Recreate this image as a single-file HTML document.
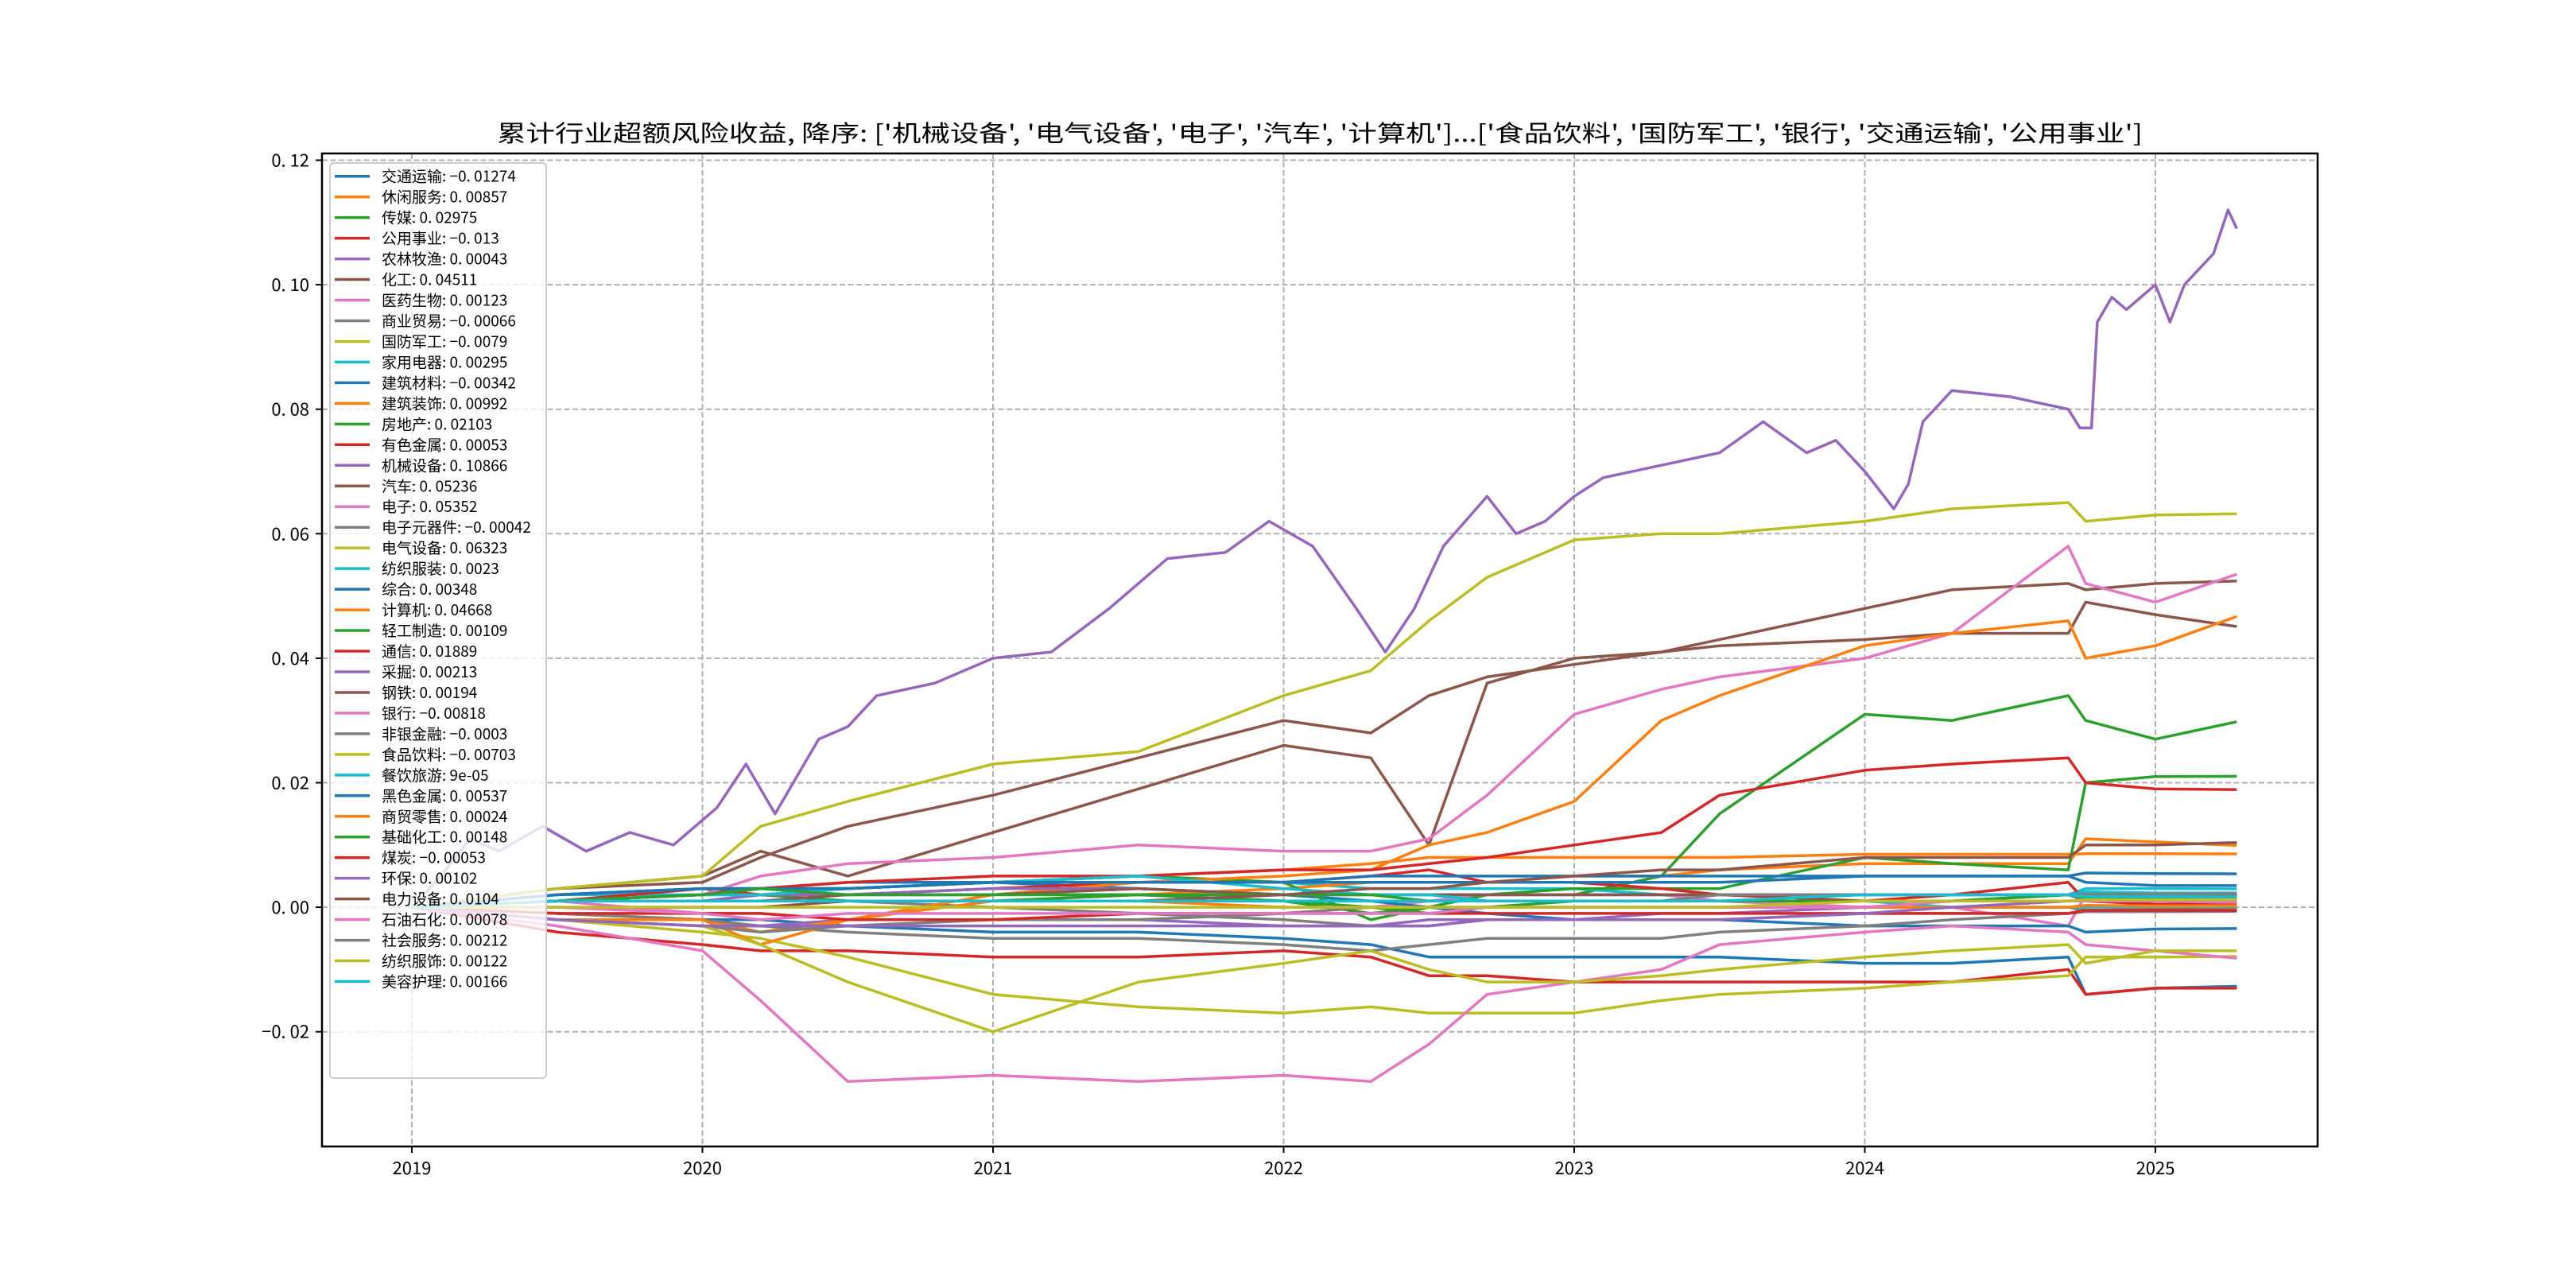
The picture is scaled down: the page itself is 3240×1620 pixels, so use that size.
<!DOCTYPE html>
<html><head><meta charset="utf-8"><style>
html,body{margin:0;padding:0;background:#fff}
svg{display:block}
text{font-family:"Noto Sans CJK SC","WenQuanYi Zen Hei",sans-serif}
</style></head><body>
<svg id="chart" width="3240" height="1620" viewBox="0 0 3240 1620" xmlns="http://www.w3.org/2000/svg">
<rect x="0" y="0" width="3240" height="1620" fill="#fff"/>
<text x="1660" y="178" text-anchor="middle" font-size="29" textLength="2070" lengthAdjust="spacingAndGlyphs">累计行业超额风险收益,  降序: ['机械设备', '电气设备', '电子', '汽车', '计算机']...['食品饮料', '国防军工', '银行', '交通运输', '公用事业']</text>
<g id="grid"></g>
<g id="axes"></g>
<g id="lines"></g>
<rect x="405" y="193" width="2510" height="1249" fill="none" stroke="#000" stroke-width="2.5"/>
<g id="legend"></g>
</svg>
<script>
const names = ["交通运输","休闲服务","传媒","公用事业","农林牧渔","化工","医药生物","商业贸易","国防军工","家用电器","建筑材料","建筑装饰","房地产","有色金属","机械设备","汽车","电子","电子元器件","电气设备","纺织服装","综合","计算机","轻工制造","通信","采掘","钢铁","银行","非银金融","食品饮料","餐饮旅游","黑色金属","商贸零售","基础化工","煤炭","环保","电力设备","石油石化","社会服务","纺织服饰","美容护理"];
const finals = ["-0.01274","0.00857","0.02975","-0.013","0.00043","0.04511","0.00123","-0.00066","-0.0079","0.00295","-0.00342","0.00992","0.02103","0.00053","0.10866","0.05236","0.05352","-0.00042","0.06323","0.0023","0.00348","0.04668","0.00109","0.01889","0.00213","0.00194","-0.00818","-0.0003","-0.00703","9e-05","0.00537","0.00024","0.00148","-0.00053","0.00102","0.0104","0.00078","0.00212","0.00122","0.00166"];
const gridT = [2019.0,2019.5,2020.0,2020.2,2020.5,2021.0,2021.5,2022.0,2022.3,2022.5,2022.7,2023.0,2023.3,2023.5,2024.0,2024.3,2024.7,2024.76,2025.0,2025.28];
const values = [
[0,-0.001,-0.002,-0.002,-0.003,-0.004,-0.004,-0.005,-0.006,-0.008,-0.008,-0.008,-0.008,-0.008,-0.009,-0.009,-0.008,-0.014,-0.013,-0.0127],
[0,0.001,0.002,0.002,0.003,0.004,0.005,0.006,0.007,0.008,0.008,0.008,0.008,0.008,0.0085,0.0085,0.0085,0.0086,0.0086,0.00857],
[0,0.001,0.001,0.002,0.002,0.002,0.002,0.001,-0.001,0,0.002,0.002,0.005,0.015,0.031,0.030,0.034,0.030,0.027,0.0298],
[0,-0.004,-0.006,-0.007,-0.007,-0.008,-0.008,-0.007,-0.008,-0.011,-0.011,-0.012,-0.012,-0.012,-0.012,-0.012,-0.010,-0.014,-0.013,-0.013],
[0,-0.002,-0.003,-0.003,-0.002,-0.002,-0.002,-0.003,-0.003,-0.002,-0.002,-0.002,-0.001,-0.001,0,0.001,0.002,0.001,0.0005,0.00043],
[0,0.003,0.005,0.009,0.005,0.012,0.019,0.026,0.024,0.010,0.036,0.040,0.041,0.042,0.043,0.044,0.044,0.049,0.047,0.0451],
[0,0.001,-0.001,-0.001,-0.002,-0.002,-0.002,-0.001,0,0.001,0.002,0.002,0.002,0.001,0,0,-0.003,0.002,0.001,0.00123],
[0,0.002,0.003,0.002,0.001,0.000,-0.001,-0.002,-0.003,-0.003,-0.002,-0.002,-0.002,-0.002,-0.001,-0.001,-0.001,-0.0007,-0.0007,-0.00066],
[0,-0.002,-0.004,-0.005,-0.008,-0.014,-0.016,-0.017,-0.016,-0.017,-0.017,-0.017,-0.015,-0.014,-0.013,-0.012,-0.011,-0.008,-0.008,-0.0079],
[0,0.002,0.002,0.003,0.003,0.004,0.005,0.004,0.003,0.003,0.003,0.003,0.002,0.002,0.002,0.002,0.002,0.003,0.003,0.00295],
[0,0.001,0.002,0.003,0.003,0.004,0.003,0.002,0.001,0,-0.001,-0.002,-0.002,-0.002,-0.003,-0.003,-0.003,-0.004,-0.0035,-0.00342],
[0,-0.001,-0.002,-0.004,-0.002,0.001,0.002,0.003,0.004,0.004,0.004,0.005,0.005,0.006,0.007,0.007,0.007,0.011,0.0105,0.00992],
[0,0.001,0.002,0.003,0.003,0.004,0.005,0.004,-0.002,0,0.002,0.003,0.003,0.003,0.008,0.007,0.006,0.020,0.021,0.02103],
[0,0.001,0.003,0.002,0.002,0.003,0.004,0.004,0.005,0.006,0.004,0.004,0.003,0.002,0.001,0.002,0.004,0.001,0.0005,0.00053],
null,
[0,0.003,0.004,0.008,0.013,0.018,0.024,0.030,0.028,0.034,0.037,0.039,0.041,0.043,0.048,0.051,0.052,0.051,0.052,0.0524],
[0,0.001,0.002,0.005,0.007,0.008,0.010,0.009,0.009,0.011,0.018,0.031,0.035,0.037,0.040,0.044,0.058,0.052,0.049,0.0535],
[0,-0.001,-0.002,-0.003,-0.004,-0.005,-0.005,-0.006,-0.007,-0.006,-0.005,-0.005,-0.005,-0.004,-0.003,-0.002,-0.001,-0.0005,-0.0004,-0.00042],
[0,0.003,0.005,0.013,0.017,0.023,0.025,0.034,0.038,0.046,0.053,0.059,0.060,0.060,0.062,0.064,0.065,0.062,0.063,0.0632],
[0,0.002,0.003,0.003,0.002,0.002,0.003,0.002,0.002,0.002,0.002,0.002,0.002,0.002,0.002,0.002,0.002,0.0025,0.0023,0.0023],
[0,0.002,0.003,0.003,0.004,0.004,0.004,0.004,0.005,0.005,0.005,0.005,0.005,0.005,0.005,0.005,0.005,0.004,0.0035,0.00348],
[0,-0.002,-0.002,-0.006,-0.002,0.002,0.004,0.005,0.006,0.010,0.012,0.017,0.030,0.034,0.042,0.044,0.046,0.040,0.042,0.0467],
[0,0.001,0.002,0.002,0.001,0.001,0.002,0.001,0,-0.001,0,0.001,0.001,0.001,0.001,0.001,0.001,0.001,0.0011,0.00109],
[0,0.001,0.002,0.003,0.004,0.005,0.005,0.006,0.006,0.007,0.008,0.010,0.012,0.018,0.022,0.023,0.024,0.020,0.019,0.0189],
[0,0.001,0.001,0.002,0.002,0.003,0.003,0.002,0.002,0.002,0.002,0.002,0.002,0.002,0.002,0.002,0.002,0.002,0.0021,0.00213],
[0,0.001,0.001,0.001,0.002,0.002,0.003,0.002,0.002,0.002,0.002,0.002,0.002,0.002,0.002,0.002,0.002,0.002,0.0019,0.00194],
[0,-0.003,-0.007,-0.015,-0.028,-0.027,-0.028,-0.027,-0.028,-0.022,-0.014,-0.012,-0.010,-0.006,-0.004,-0.003,-0.004,-0.006,-0.007,-0.0082],
[0,-0.002,-0.003,-0.004,-0.003,-0.002,-0.002,-0.001,0,0,0,0,0,0,0,0,0,-0.0005,-0.0003,-0.0003],
[0,-0.002,-0.003,-0.006,-0.012,-0.020,-0.012,-0.009,-0.007,-0.010,-0.012,-0.012,-0.011,-0.010,-0.008,-0.007,-0.006,-0.009,-0.007,-0.007],
[0,0.001,0.002,0.002,0.003,0.004,0.005,0.003,0.002,0.002,0.001,0.001,0.001,0.001,0.001,0,0,0,0.0001,0.00009],
[0,0.002,0.003,0.003,0.003,0.004,0.004,0.004,0.004,0.004,0.004,0.004,0.004,0.004,0.005,0.005,0.005,0.0055,0.0054,0.00537],
[0,0.001,0.001,0.001,0.001,0.001,0.001,0,0,0,0,0,0,0,0,0,0,0.0003,0.0002,0.00024],
[0,0.001,0.002,0.003,0.002,0.002,0.002,0.002,0.002,0.001,0.001,0.001,0.001,0.001,0.001,0.001,0.002,0.0015,0.0015,0.00148],
[0,-0.001,-0.001,-0.001,-0.002,-0.002,-0.001,-0.001,-0.001,-0.001,-0.001,-0.001,-0.001,-0.001,-0.001,-0.001,-0.001,-0.0005,-0.0005,-0.00053],
[0,-0.002,-0.003,-0.003,-0.003,-0.003,-0.003,-0.003,-0.003,-0.003,-0.002,-0.002,-0.002,-0.002,-0.001,0,0.001,0.001,0.001,0.00102],
[0,0,0,0,0.001,0.001,0.001,0.002,0.003,0.003,0.004,0.005,0.006,0.006,0.008,0.008,0.008,0.010,0.010,0.0104],
[0,0,-0.001,-0.002,-0.001,-0.001,-0.001,-0.001,-0.001,-0.001,0,0,0,0,0,0.001,0.001,0.001,0.001,0.00078],
[0,0.001,0.001,0.001,0.001,0.001,0.001,0.001,0.001,0.001,0.001,0.001,0.001,0.002,0.002,0.002,0.002,0.0021,0.0021,0.00212],
[0,0,0,0,0,0,0,0,0,0,0,0,0,0,0.001,0.001,0.001,0.0012,0.0012,0.00122],
[0,0.001,0.001,0.001,0.001,0.001,0.001,0.001,0.001,0.001,0.001,0.001,0.001,0.001,0.002,0.002,0.002,0.0017,0.0017,0.00166]
];
const jxT = [2019.0,2019.1,2019.2,2019.3,2019.45,2019.6,2019.75,2019.9,2020.05,2020.15,2020.25,2020.4,2020.5,2020.6,2020.8,2021.0,2021.2,2021.4,2021.6,2021.8,2021.95,2022.1,2022.25,2022.35,2022.45,2022.55,2022.7,2022.8,2022.9,2023.0,2023.1,2023.3,2023.5,2023.65,2023.8,2023.9,2024.0,2024.1,2024.15,2024.2,2024.3,2024.5,2024.7,2024.74,2024.78,2024.8,2024.85,2024.9,2025.0,2025.05,2025.1,2025.2,2025.25,2025.28];
const jxV = [0,0.005,0.011,0.009,0.013,0.009,0.012,0.010,0.016,0.023,0.015,0.027,0.029,0.034,0.036,0.040,0.041,0.048,0.056,0.057,0.062,0.058,0.048,0.041,0.048,0.058,0.066,0.060,0.062,0.066,0.069,0.071,0.073,0.078,0.073,0.075,0.070,0.064,0.068,0.078,0.083,0.082,0.080,0.077,0.077,0.094,0.098,0.096,0.100,0.094,0.100,0.105,0.112,0.109];
const yTicks = [-0.02,0,0.02,0.04,0.06,0.08,0.10,0.12];
const yTickLabels = ["\u22120. 02","0. 00","0. 02","0. 04","0. 06","0. 08","0. 10","0. 12"];
const xTicks = [2019,2020,2021,2022,2023,2024,2025];
const xTickLabels = ["2019","2020","2021","2022","2023","2024","2025"];
const colors = ["#1f77b4","#ff7f0e","#2ca02c","#d62728","#9467bd","#8c564b","#e377c2","#7f7f7f","#bcbd22","#17becf"];

const NS = "http://www.w3.org/2000/svg";
function xOf(t){ return 518 + (t - 2019) * 365.5; }
function yOf(v){ return 1141.1 - v * 7830; }
function mk(tag, attrs, parent){ const e = document.createElementNS(NS, tag); for (const k in attrs) e.setAttribute(k, attrs[k]); parent.appendChild(e); return e; }

const grid = document.getElementById('grid'), axes = document.getElementById('axes');
yTicks.forEach((v,i)=>{
  const y = yOf(v);
  const g = mk('line',{x1:405,x2:2915,y1:y,y2:y,stroke:'#b0b0b0','stroke-width':2,'stroke-dasharray':'7,3.5'},grid);
  
  
  const tk = mk('line',{x1:397,x2:405,y1:y,y2:y,stroke:'#000','stroke-width':2},axes);
  
  
  const tx = mk('text',{x:389,y:y+8,'text-anchor':'end','font-size':22},axes);
  tx.textContent = yTickLabels[i];
  
  
});
xTicks.forEach((t,i)=>{
  const x = xOf(t);
  const g = mk('line',{x1:x,x2:x,y1:193,y2:1442,stroke:'#b0b0b0','stroke-width':2,'stroke-dasharray':'7,3.5'},grid);
  
  
  const tk = mk('line',{x1:x,x2:x,y1:1442,y2:1450,stroke:'#000','stroke-width':2},axes);
  
  
  const tx = mk('text',{x:x,y:1477,'text-anchor':'middle','font-size':22},axes);
  tx.textContent = xTickLabels[i];
  
  
});

const lines = document.getElementById('lines');
names.forEach((n,i)=>{
  const ts = values[i] ? gridT : jxT;
  const vs = values[i] ? values[i] : jxV;
  const d = ts.map((t,k)=>(k?'L':'M')+xOf(t).toFixed(1)+','+yOf(vs[k]).toFixed(1)).join(' ');
  const p = mk('path',{d:d,fill:'none',stroke:colors[i%10],'stroke-width':3.5,'stroke-linejoin':'round'},lines);
  
  
});

const legend = document.getElementById('legend');
const lb = mk('rect',{x:415,y:205,width:272,height:1151,rx:5,fill:'#fff','fill-opacity':0.8,stroke:'#cccccc','stroke-width':2},legend);


names.forEach((n,i)=>{
  const y = 221.7 + i * 25.97;
  const ln = mk('line',{x1:421,x2:465,y1:y,y2:y,stroke:colors[i%10],'stroke-width':3.5},legend);
  
  
  const tx = mk('text',{x:480,y:y+7,'font-size':19},legend);
  tx.textContent = n + ':  ' + finals[i].replace(/^-/,'\u2212').replace('.', '. ');
  
  
});
</script>
</body></html>
